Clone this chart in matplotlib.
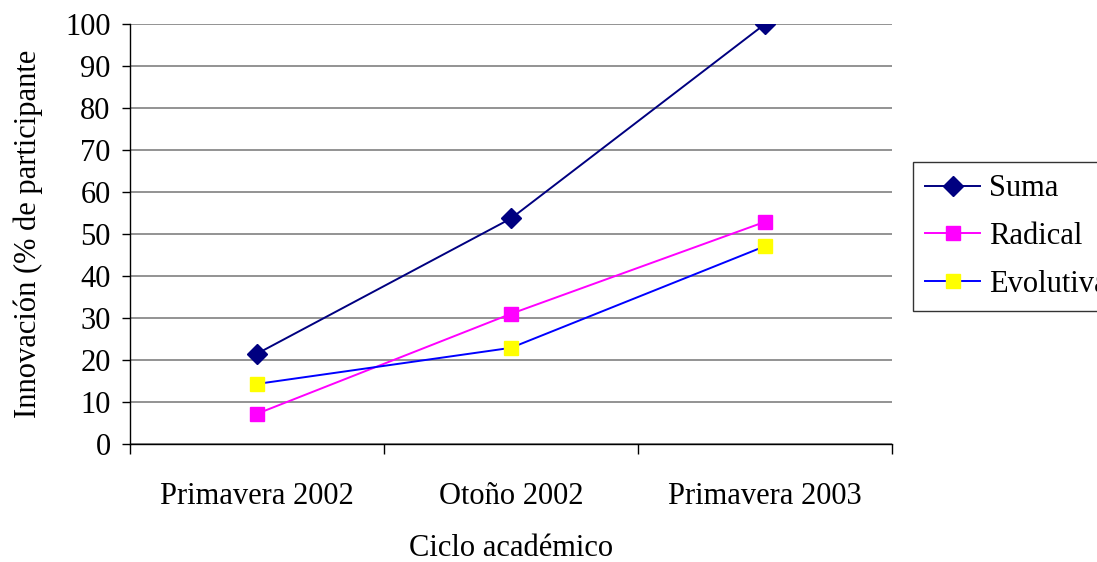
import matplotlib as mpl
import matplotlib.pyplot as plt

mpl.rcParams.update({
    "font.family": "serif",
    "font.serif": ["Liberation Serif", "DejaVu Serif"],
})

categories = ["Primavera 2002", "Otoño 2002", "Primavera 2003"]
suma = [21.5, 53.7, 100]
radical = [7.2, 31, 52.9]
evolutiva = [14.3, 22.9, 47.1]

W, H = 1097, 562
FS = 22
fig = plt.figure(figsize=(W / 100, H / 100), dpi=100)
ax = fig.add_axes([130 / W, (H - 444) / H, (892 - 130) / W, (444 - 24) / H])

xs = list(range(len(categories)))
ax.plot(xs, suma, "-", color="#000080", linewidth=1.4, marker="D", markersize=10,
        markerfacecolor="#000080", markeredgecolor="#000080", label="Suma", zorder=3)
ax.plot(xs, radical, "-", color="#FF00FF", linewidth=1.4, marker="s", markersize=10,
        markerfacecolor="#FF00FF", markeredgecolor="#FF00FF", label="Radical", zorder=3)
ax.plot(xs, evolutiva, "-", color="#0000FF", linewidth=1.4, marker="s", markersize=10,
        markerfacecolor="#FFFF00", markeredgecolor="#FFFF00", label="Evolutiva", zorder=3)

ax.set_xlim(-0.5, 2.5)
ax.set_ylim(0, 100)
ax.set_yticks(range(0, 101, 10))
ax.yaxis.grid(True, color="#808080", linewidth=1.2)
ax.set_axisbelow(True)

ax.set_xticks(xs)
ax.set_xticklabels(categories, fontsize=FS)
ax.set_xticks([-0.5, 0.5, 1.5, 2.5], minor=True)
ax.tick_params(axis="x", which="major", length=0, pad=27)
ax.tick_params(axis="x", which="minor", length=7, width=1, direction="out")
ax.tick_params(axis="y", length=6, width=1, direction="out", labelsize=FS, pad=8)

for s in ("top", "right"):
    ax.spines[s].set_visible(False)
for s in ("left", "bottom"):
    ax.spines[s].set_color("black")
    ax.spines[s].set_linewidth(1)

ax.set_xlabel("Ciclo académico", fontsize=FS, labelpad=17)
ax.set_ylabel("Innovación (% de participante", fontsize=FS, labelpad=16)

leg = ax.legend(loc="upper left", bbox_to_anchor=(913 / W, (H - 162) / H),
                bbox_transform=fig.transFigure, fontsize=FS, frameon=True,
                fancybox=False, edgecolor="black", handlelength=1.8,
                borderpad=0.4, borderaxespad=0, labelspacing=0.62, handletextpad=0.3)
leg.get_frame().set_linewidth(1)

fig.savefig("out.png", dpi=100)
